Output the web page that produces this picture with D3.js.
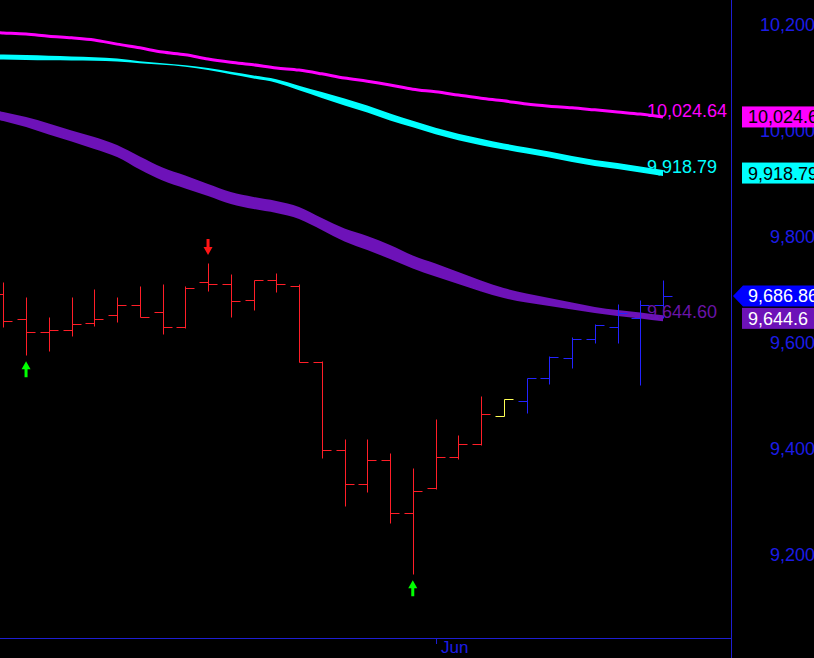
<!DOCTYPE html>
<html><head><meta charset="utf-8">
<script src="https://cdn.jsdelivr.net/npm/d3@7/dist/d3.min.js"></script>
<style>html,body{margin:0;padding:0;background:#000;overflow:hidden}</style>
</head><body><svg id="c" width="814" height="658"></svg>
<script>
// ---- data ----
const bars = d3.range(30);
const opens  = [9691,9643,9619,9623,9636,9651,9670,9657,9628,9713,9709,9679,9717,9706,9562,9396,9332,9377,9277,9324,9383,9407,9460,9489,9532,9570,9606,9628,9645,9670];
const highs  = [9713,9685,9647,9685,9700,9685,9706,9709,9705,9749,9728,9717,9730,9709,9564,9417,9417,9391,9362,9455,9424,9498,9492,9532,9574,9609,9634,9672,9679,9717];
const lows   = [9628,9575,9583,9611,9630,9638,9647,9615,9626,9696,9647,9660,9694,9562,9381,9291,9317,9258,9162,9322,9379,9405,9460,9466,9521,9551,9598,9598,9519,9645];
const closes = [9640,9619,9623,9634,9643,9670,9647,9628,9702,9709,9677,9717,9709,9562,9396,9332,9377,9277,9319,9383,9407,9464,9492,9532,9572,9606,9632,9655,9670,9686.86];
const trend  = ["dn","dn","dn","dn","dn","dn","dn","dn","dn","dn","dn","dn","dn","dn","dn","dn","dn","dn","dn","dn","dn","dn","flat","up","up","up","up","up","up","up"];
const signals = [{bar:1,type:"buy"},{bar:9,type:"sell"},{bar:18,type:"buy"}];

// moving averages, bars -1 .. 29
const maBars = d3.range(-1, 30);
const maMagenta = [10185,10183,10181,10177,10174,10170,10162,10155,10147,10142,10134,10128,10123,10117,10113,10106,10098,10092,10085,10077,10072,10066,10060,10055,10049,10045,10042,10038,10034,10030,10024.64];
const maCyan = [10139.6,10137.7,10136.8,10135.8,10134.9,10134,10132,10128,10124.5,10120.8,10115,10107.5,10100,10092.5,10079.2,10066,10052.8,10039.6,10024.5,10011.3,9998,9986.8,9977.4,9969,9961.3,9953.8,9945.3,9937.7,9932,9925.5,9918.79];
const maCyanSpread = [9.4,9.4,9.4,8.5,7.5,6.6,5.7,3.8,2.8,2.8,3.8,4.7,5.7,6.6,8.5,11.3,13.2,13.2,13.2,12.3,12.3,12.3,12.3,11.3,11.3,11.3,11.3,11.3,11.3,11.3,11.3];
const maPurple = [10035.8,10025.5,10015.1,10001.9,9988.7,9975.5,9960.4,9937.7,9917,9901.9,9886.8,9871.7,9862.3,9854.7,9843.4,9822.6,9801.9,9786.8,9769.8,9750.9,9735.8,9720.8,9705.7,9692.5,9683,9675.5,9667.9,9660.4,9654.7,9650,9644.6];
const maPurpleSpread = [17,17,18.9,20.8,20.8,22.6,22.6,24.5,24.5,24.5,22.6,22.6,22.6,22.6,22.6,22.6,24.5,26.4,26.4,24.5,24.5,22.6,20.8,18.9,17,15.1,13.2,11.3,11.3,11.3,11.3];

const yTicks = [9200,9400,9600,9800,10000,10200];
const xTicks = [{bar:19,label:"Jun"}];
const lastLabels = [
  {text:"10,024.64", value:10024.64, color:"#ff00ff", box:"10,024.64", boxFill:"#ff00ff", boxText:"#000"},
  {text:"9,918.79", value:9918.79, color:"#00ffff", box:"9,918.79", boxFill:"#00ffff", boxText:"#000"},
  {text:"9,644.60", value:9644.6, color:"#6a14a8", box:"9,644.6", boxFill:"#6d12b8", boxText:"#fff"}
];
const lastPrice = 9686.86;

// ---- chart ----
const svg = d3.select("#c");
const plotR = 731, plotB = 638;
const x = d3.scaleLinear().domain([0,29]).range([3.3,663]);
const y = d3.scaleLinear().domain([9200,10200]).range([554,24]);
const font = "'Liberation Sans', Arial, sans-serif";
const axisBlue = "#1e1ed2";
const textBlue = "#1c1ce6";

svg.append("rect").attr("width",814).attr("height",658).attr("fill","#000");
svg.append("defs").append("clipPath").attr("id","plot")
  .append("rect").attr("x",0).attr("y",0).attr("width",plotR).attr("height",plotB);
const g = svg.append("g").attr("clip-path","url(#plot)");

// MA ribbons
const ribbon = (vals, spread) => d3.area()
  .curve(d3.curveMonotoneX)
  .x((d,i)=>x(maBars[i]))
  .y0((d,i)=>y(vals[i]-spread[i]/2))
  .y1((d,i)=>y(vals[i]+spread[i]/2));
g.append("path").datum(maPurple).attr("d", ribbon(maPurple, maPurpleSpread)).attr("fill","#6d12b8");
g.append("path").datum(maCyan).attr("d", ribbon(maCyan, maCyanSpread)).attr("fill","#00ffff");
g.append("path").datum(maMagenta)
  .attr("d", d3.line().curve(d3.curveMonotoneX).x((d,i)=>x(maBars[i])).y(d=>y(d))(maMagenta))
  .attr("fill","none").attr("stroke","#ff00ff").attr("stroke-width",3);

// OHLC bars
const colorOf = {dn:"#ff1e28", flat:"#ffff55", up:"#2323ff"};
const px = i => Math.round(x(i)) + 0.5;
const py = v => Math.round(y(v)) + 0.5;
const bg = g.append("g").attr("stroke-width",1).attr("fill","none");
bars.forEach(i => {
  const c = colorOf[trend[i]];
  const xc = px(i);
  bg.append("line").attr("x1",xc).attr("x2",xc).attr("y1",py(highs[i])).attr("y2",py(lows[i])).attr("stroke",c);
  bg.append("line").attr("x1",xc-9).attr("x2",xc).attr("y1",py(opens[i])).attr("y2",py(opens[i])).attr("stroke",c);
  bg.append("line").attr("x1",xc).attr("x2",xc+9).attr("y1",py(closes[i])).attr("y2",py(closes[i])).attr("stroke",c);
});

// signal arrows
signals.forEach(s => {
  const cx = x(s.bar);
  if (s.type === "buy") {
    const t = y(lows[s.bar]) + 6;
    g.append("path").attr("fill","#00ff00")
      .attr("d",`M${cx},${t} L${cx+4.5},${t+8} L${cx+1.5},${t+8} L${cx+1.5},${t+16} L${cx-1.5},${t+16} L${cx-1.5},${t+8} L${cx-4.5},${t+8} Z`);
  } else {
    const b = y(highs[s.bar]) - 8;
    g.append("path").attr("fill","#ff1515")
      .attr("d",`M${cx},${b} L${cx+4.5},${b-8} L${cx+1.5},${b-8} L${cx+1.5},${b-16} L${cx-1.5},${b-16} L${cx-1.5},${b-8} L${cx-4.5},${b-8} Z`);
  }
});

// in-plot last value labels
lastLabels.forEach(l => {
  svg.append("text").attr("x", x(29)-16).attr("y", y(l.value)).attr("fill", l.color)
    .attr("font-family", font).attr("font-size", 18).text(l.text);
});

// axes
const yAxis = d3.axisRight(y).tickValues(yTicks).tickFormat(d3.format(",")).tickSize(0);
const ya = svg.append("g").attr("transform",`translate(${plotR},0)`).call(yAxis);
ya.select(".domain").remove();
ya.selectAll("text").attr("x", 84).attr("text-anchor","end").attr("dy","0.35em")
  .attr("fill", textBlue).attr("font-family", font).attr("font-size", 18);

const xAxis = d3.axisBottom(x).tickValues(xTicks.map(d=>d.bar)).tickFormat(d => xTicks.find(t=>t.bar===d).label).tickSize(6);
const xa = svg.append("g").attr("transform",`translate(0,${plotB})`).call(xAxis);
xa.select(".domain").remove();
xa.selectAll("line").attr("stroke", axisBlue).attr("transform","translate(0.5,0)");
xa.selectAll("text").attr("text-anchor","start").attr("x",5).attr("y",3).attr("dy","0.71em")
  .attr("fill", textBlue).attr("font-family", font).attr("font-size", 17);

svg.append("line").attr("x1",0).attr("x2",plotR).attr("y1",plotB+0.5).attr("y2",plotB+0.5).attr("stroke",axisBlue);
svg.append("line").attr("x1",plotR+0.5).attr("x2",plotR+0.5).attr("y1",0).attr("y2",658).attr("stroke",axisBlue);

// right-side value boxes
lastLabels.forEach(l => {
  const yc = y(l.value);
  svg.append("rect").attr("x",742).attr("y",yc-10.5).attr("width",80).attr("height",21).attr("fill",l.boxFill);
  svg.append("text").attr("x",748).attr("y",yc).attr("dy","0.36em").attr("fill",l.boxText)
    .attr("font-family",font).attr("font-size",18).text(l.box);
});
{
  const yc = y(lastPrice);
  svg.append("path").attr("fill","#0000ff")
    .attr("d",`M733,${yc} L743,${yc-10.5} L822,${yc-10.5} L822,${yc+10.5} L743,${yc+10.5} Z`);
  svg.append("text").attr("x",748).attr("y",yc).attr("dy","0.36em").attr("fill","#fff")
    .attr("font-family",font).attr("font-size",18).text(d3.format(",.2f")(lastPrice));
}
</script></body></html>
